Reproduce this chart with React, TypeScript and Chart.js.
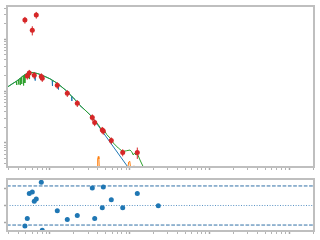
import React, { useEffect, useRef } from "react";
import { Chart, registerables } from "chart.js";
Chart.register(...registerables);

// axis ranges
const X_MIN = 0.0289;
const X_MAX = 205;
const Y_MIN = 3.39e-14;
const Y_MAX = 4.41e-11;
const R_MIN = -1.54;
const R_MAX = 1.6;

// tick definitions (no labels shown)
const xDecades = [0.01, 0.1, 1, 10, 100];
const yDecades = [1e-14, 1e-13, 1e-12, 1e-11];
const minorSteps = [1, 2, 3, 4, 5, 6, 7, 8, 9];
const resTicks = [-1, 0, 1];
const refLevels = [1.18, 0, -1.18];

// observed points
const obsX = [0.0485, 0.0519, 0.055, 0.06, 0.0635, 0.0673, 0.0778, 0.08, 0.1235, 0.1649, 0.2201, 0.3394, 0.3638, 0.4531, 0.4664, 0.5875, 0.8171, 1.2454, 2.285];
const obsY = [2.36e-11, 1.95e-12, 2.23e-12, 1.49e-11, 2.01e-12, 2.95e-11, 1.91e-12, 1.76e-12, 1.29e-12, 9.03e-13, 5.78e-13, 3.07e-13, 2.46e-13, 1.76e-13, 1.68e-13, 1.1e-13, 6.46e-14, 6.46e-14, 1.52e-14];
const obsErr = [3.5e-12, 2.9e-13, 3.3e-13, 3.0e-12, 3.0e-13, 4.4e-12, 2.9e-13, 2.6e-13, 1.9e-13, 1.35e-13, 8.7e-14, 4.6e-14, 3.7e-14, 2.6e-14, 2.5e-14, 1.65e-14, 1.0e-14, 1.6e-14, 2.3e-15];
const resY = [-1.24, -0.79, 0.73, 0.81, 0.25, 0.39, 1.4, -1.5, -0.31, -0.85, -0.61, 1.05, -0.79, -0.14, 1.11, 0.34, -0.14, 0.73, -0.02];

// total model (green)
const modelX = [0.0273, 0.0293, 0.0334, 0.0378, 0.0382, 0.0385, 0.0403, 0.0405, 0.0408, 0.042, 0.0423, 0.0426, 0.0439, 0.0441, 0.0445, 0.0462, 0.0465, 0.0469, 0.048, 0.0483, 0.0488, 0.0515, 0.0545, 0.055, 0.0555, 0.0595, 0.0648, 0.0707, 0.0771, 0.0866, 0.1, 0.1155, 0.1335, 0.162, 0.178, 0.206, 0.22, 0.238, 0.275, 0.318, 0.339, 0.357, 0.378, 0.404, 0.433, 0.449, 0.476, 0.515, 0.583, 0.623, 0.719, 0.817, 0.917, 1.009, 1.06, 1.11, 1.142, 1.2, 1.253, 1.346, 1.481, 1.601];
const modelY = [1.093e-12, 1.195e-12, 1.366e-12, 1.54e-12, 1.306e-12, 1.575e-12, 1.647e-12, 1.336e-12, 1.684e-12, 1.746e-12, 1.306e-12, 1.784e-12, 1.849e-12, 1.366e-12, 1.883e-12, 1.968e-12, 1.278e-12, 2.004e-12, 2.058e-12, 1.428e-12, 2.095e-12, 2.181e-12, 2.239e-12, 1.707e-12, 2.249e-12, 2.279e-12, 2.239e-12, 2.161e-12, 2.058e-12, 1.908e-12, 1.722e-12, 1.507e-12, 1.278e-12, 1.0e-12, 8.55e-13, 6.85e-13, 6.05e-13, 5.24e-13, 4.29e-13, 3.46e-13, 3.14e-13, 2.69e-13, 2.54e-13, 2.22e-13, 1.88e-13, 1.8e-13, 1.78e-13, 1.44e-13, 1.18e-13, 9.87e-14, 7.9e-14, 6.76e-14, 7.0e-14, 7.22e-14, 6.67e-14, 5.78e-14, 6.24e-14, 5.78e-14, 6.05e-14, 4.63e-14, 3.39e-14, 2.71e-14];

// continuum component (blue)
const contX = [0.0273, 0.0293, 0.0334, 0.0378, 0.042, 0.0469, 0.0515, 0.0545, 0.0595, 0.0648, 0.065, 0.0654, 0.0707, 0.0771, 0.0866, 0.1, 0.1066, 0.1072, 0.1078, 0.1155, 0.1268, 0.1275, 0.1282, 0.1335, 0.162, 0.178, 0.1866, 0.1877, 0.1888, 0.206, 0.22, 0.238, 0.275, 0.318, 0.339, 0.9385, 1.009];
const contY = [1.093e-12, 1.195e-12, 1.366e-12, 1.54e-12, 1.746e-12, 2.004e-12, 2.181e-12, 2.239e-12, 2.279e-12, 2.239e-12, 1.596e-12, 2.229e-12, 2.161e-12, 2.058e-12, 1.908e-12, 1.722e-12, 1.625e-12, 1.249e-12, 1.611e-12, 1.507e-12, 1.348e-12, 1.069e-12, 1.33e-12, 1.278e-12, 1.0e-12, 8.55e-13, 7.93e-13, 6.41e-13, 7.79e-13, 6.85e-13, 6.05e-13, 5.24e-13, 4.29e-13, 3.46e-13, 3.1e-13, 3.46e-14, 2.96e-14];

// line component (orange)
const lineX = [0.3176, 0.3923, 0.3968, 0.4036, 0.4107, 0.4155, 0.4898, 0.9467, 0.9716, 1.003, 1.026, 1.038, 1.119, 1.132, 1.146, 1.346];
const lineY = [7.79e-15, 3.24e-14, 4.84e-14, 5.41e-14, 4.84e-14, 3.24e-14, 7.79e-15, 3.24e-14, 4.23e-14, 4.37e-14, 3.24e-14, 2.71e-14, 2.71e-14, 3.57e-14, 2.71e-14, 7.79e-15];

const pts = (xs: number[], ys: number[]) => xs.map((x, i) => ({ x, y: ys[i] }));

const logTicks = (decades: number[], min: number, max: number) => {
  const out: { value: number; major: boolean }[] = [];
  decades.forEach((d) =>
    minorSteps.forEach((m) => {
      const v = m * d;
      if (v >= min && v <= max) out.push({ value: v, major: m === 1 });
    })
  );
  return out;
};

const frame = {
  id: "frame",
  afterDraw(chart: any) {
    const { ctx, chartArea: a } = chart;
    ctx.save();
    ctx.strokeStyle = "#bfbfbf";
    ctx.lineWidth = 2;
    ctx.strokeRect(a.left, a.top, a.right - a.left, a.bottom - a.top);
    ctx.restore();
  },
};

const errorBars = {
  id: "errorBars",
  afterDatasetsDraw(chart: any) {
    const { ctx, chartArea: a, scales } = chart;
    ctx.save();
    ctx.beginPath();
    ctx.rect(a.left, a.top, a.right - a.left, a.bottom - a.top);
    ctx.clip();
    ctx.strokeStyle = "#d62728";
    ctx.lineWidth = 1;
    obsX.forEach((x, i) => {
      const px = scales.x.getPixelForValue(x);
      const y1 = scales.y.getPixelForValue(obsY[i] + obsErr[i]);
      const y2 = scales.y.getPixelForValue(Math.max(obsY[i] - obsErr[i], 1e-20));
      ctx.beginPath();
      ctx.moveTo(px, y1);
      ctx.lineTo(px, y2);
      ctx.stroke();
    });
    ctx.restore();
  },
};

const tickGrid = {
  display: true,
  drawOnChartArea: false,
  drawTicks: true,
  tickLength: 3,
  tickColor: (c: any) => (c.tick && c.tick.major ? "#a8a8a8" : "#b4b4b4"),
  tickWidth: (c: any) => (c.tick && c.tick.major ? 1.5 : 1),
};

const xScale = {
  type: "logarithmic" as const,
  min: X_MIN,
  max: X_MAX,
  ticks: { display: false },
  grid: tickGrid,
  border: { display: false },
  afterBuildTicks: (s: any) => {
    s.ticks = logTicks(xDecades, X_MIN, X_MAX);
  },
};

const lineDs = (data: any, color: string) => ({
  type: "line" as const,
  data,
  borderColor: color,
  backgroundColor: color,
  borderWidth: 1,
  pointRadius: 0,
  tension: 0,
  fill: false,
});

export default function App() {
  const topRef = useRef<HTMLCanvasElement>(null);
  const botRef = useRef<HTMLCanvasElement>(null);

  useEffect(() => {
    const common = {
      animation: false as const,
      responsive: false,
      devicePixelRatio: 1,
      events: [] as any[],
      plugins: { legend: { display: false }, tooltip: { enabled: false } },
    };

    const top = new Chart(topRef.current!, {
      type: "scatter",
      data: {
        datasets: [
          {
            type: "scatter",
            data: pts(obsX, obsY),
            backgroundColor: "#d62728",
            borderColor: "#d62728",
            pointRadius: 2.5,
            pointBorderWidth: 0,
          } as any,
          lineDs(pts(modelX, modelY), "#2ca02c"),
          lineDs(pts(contX, contY), "#1f77b4"),
          lineDs(pts(lineX, lineY), "#ff7f0e"),
        ],
      },
      options: {
        ...common,
        layout: { padding: { left: 4, right: 6, top: 6, bottom: 5 } },
        scales: {
          x: xScale,
          y: {
            type: "logarithmic",
            min: Y_MIN,
            max: Y_MAX,
            ticks: { display: false },
            grid: tickGrid,
            border: { display: false },
            afterBuildTicks: (s: any) => {
              s.ticks = logTicks(yDecades, Y_MIN, Y_MAX);
            },
          },
        },
      } as any,
      plugins: [errorBars, frame],
    });

    const bottom = new Chart(botRef.current!, {
      type: "scatter",
      data: {
        datasets: [
          {
            type: "scatter",
            data: pts(obsX, resY),
            backgroundColor: "#1f77b4",
            borderColor: "#1f77b4",
            pointRadius: 2.5,
            pointBorderWidth: 0,
          } as any,
          ...refLevels.map((lv) => ({
            ...lineDs(
              [
                { x: X_MIN, y: lv },
                { x: X_MAX, y: lv },
              ],
              lv === 0 ? "#5b93c4" : "#2f6fa6"
            ),
            borderDash: lv === 0 ? [1, 1.6] : [3.7, 1.6],
          })),
        ],
      },
      options: {
        ...common,
        layout: { padding: { left: 4, right: 6, top: 3, bottom: 6 } },
        scales: {
          x: xScale,
          y: {
            type: "linear",
            min: R_MIN,
            max: R_MAX,
            ticks: { display: false },
            grid: tickGrid,
            border: { display: false },
            afterBuildTicks: (s: any) => {
              s.ticks = resTicks.map((v) => ({ value: v, major: true }));
            },
          },
        },
      } as any,
      plugins: [frame],
    });

    return () => {
      top.destroy();
      bottom.destroy();
    };
  }, []);

  return (
    <div style={{ position: "fixed", left: 0, top: 0, width: 320, height: 240, background: "#fff" }}>
      <canvas ref={topRef} width={320} height={175} style={{ position: "absolute", left: 0, top: 0, width: 320, height: 175 }} />
      <canvas ref={botRef} width={320} height={65} style={{ position: "absolute", left: 0, top: 175, width: 320, height: 65 }} />
    </div>
  );
}
